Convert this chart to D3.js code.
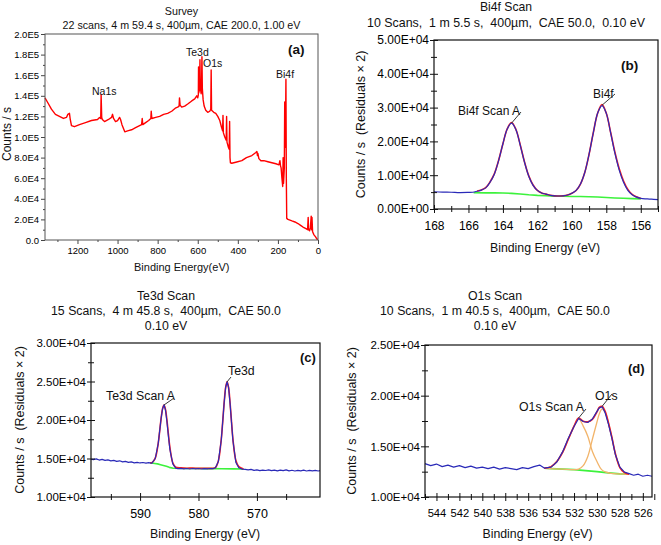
<!DOCTYPE html>
<html><head><meta charset="utf-8">
<script src="https://cdn.jsdelivr.net/npm/d3@7"></script>
<style>
body{margin:0;background:#fff}
svg{display:block}
text{font-family:"Liberation Sans",Arial,sans-serif;white-space:pre}
</style>
</head><body>
<svg id="chart" width="661" height="545"></svg>
<script>
// ---------------- DATA ----------------
// (a) Survey: [binding energy (eV), counts/s]
const surveyData = [
 [1362,138000],[1350,134000],[1330,127000],[1310,122000],[1290,120000],[1270,118000],[1255,119000],[1248,122000],[1240,123000],[1236,117000],[1230,111000],[1215,110000],[1190,112000],[1160,114000],[1130,116000],[1100,117000],[1090,119000],[1084,118000],[1082,141000],[1079,119000],[1076,117000],[1065,115000],[1045,117000],[1030,119000],[1025,122000],[1020,118000],[1010,115000],[1000,116000],[990,119000],[985,117000],[978,112000],[970,108000],[964,105000],[950,106000],[930,107000],[910,109000],[890,111000],[880,112000],[877,118000],[874,112000],[860,114000],[845,116000],[834,118000],[832,125000],[829,118000],[810,119000],[790,120000],[770,122000],[750,123000],[730,125000],[712,128000],[700,129000],[693,130000],[691,138000],[688,131000],[680,129000],[665,130000],[650,132000],[630,135000],[615,137000],[605,140000],[600,138000],[597,141000],[596,168000],[595,143000],[591,146000],[589,175000],[587,148000],[583,142000],[581,150000],[579,178000],[577,147000],[573,136000],[568,130000],[560,126000],[550,124000],[540,125000],[535,127000],[533,165000],[531,126000],[520,124000],[510,123000],[500,120000],[490,116000],[482,110000],[476,106000],[474,121000],[472,104000],[465,100000],[458,97000],[456,120000],[454,95000],[447,90000],[443,88000],[441,115000],[439,80000],[437,75000],[430,74500],[410,75500],[380,77000],[357,80000],[330,82000],[310,85000],[305,86000],[302,82000],[300,84000],[295,79000],[285,77000],[270,77000],[250,76000],[230,75000],[210,74000],[195,73000],[190,77000],[187,72000],[184,70000],[180,60000],[176,52000],[174,80000],[172,55000],[168,70000],[166,134000],[164,90000],[162,110000],[160,156000],[158,60000],[156,21000],[150,20000],[130,18500],[115,17500],[100,16000],[85,14000],[75,12600],[60,11000],[52,10000],[49,22000],[47,10000],[42,9000],[38,12000],[34,23000],[32,10000],[30,22000],[27,8000],[20,5000],[12,3000],[6,1000],[0,300]
];
const surveyYTicks = [0,20000,40000,60000,80000,100000,120000,140000,160000,180000,200000];
const surveyXTicks = [0,200,400,600,800,1000,1200];

// (b) Bi4f
const bi4fData = [
 [168,5100],[167.5,5000],[167,4950],[166.5,4850],[166,4900],[165.75,4950],[165.5,5250],[165.25,5600],[165,6250],[164.75,7900],[164.5,10300],[164.25,14300],[164,19300],[163.75,23700],[163.5,25400],[163.25,23500],[163,19000],[162.75,13900],[162.5,9700],[162.25,7000],[162,5500],[161.75,4750],[161.5,4400],[161.25,4050],[161,3900],[160.75,3850],[160.5,3900],[160.25,4150],[160,4650],[159.75,5500],[159.5,7400],[159.25,10800],[159,16200],[158.75,22700],[158.5,28400],[158.25,30600],[158,28300],[157.75,22600],[157.5,16500],[157.25,11500],[157,7900],[156.75,5500],[156.5,4200],[156.25,3500],[156,3150],[155.75,3000],[155.5,2950],[155.25,2850],[155,2800]
];
const bi4fEnvelope = [
 [165.5,5300],[165.25,5650],[165,6300],[164.75,8000],[164.5,10400],[164.25,14400],[164,19300],[163.75,23700],[163.5,25600],[163.25,23600],[163,19100],[162.75,14000],[162.5,9800],[162.25,7100],[162,5500],[161.75,4750],[161.5,4400],[161.25,4050],[161,3880],[160.75,3850],[160.5,3900],[160.25,4150],[160,4650],[159.75,5480],[159.5,7380],[159.25,10800],[159,16200],[158.75,22700],[158.5,28400],[158.25,30900],[158,28300],[157.75,22700],[157.5,16800],[157.25,11900],[157,8300],[156.75,5800],[156.5,4300],[156.25,3600],[156,3100]
];
const bi4fBackground = [
 [165.7,4800],[165,4780],[164.5,4760],[164,4720],[163.5,4620],[163,4450],[162.5,4200],[162,4020],[161.5,3900],[161,3800],[160.5,3750],[160,3700],[159.5,3680],[159,3640],[158.5,3550],[158,3420],[157.5,3270],[157,3160],[156.5,3060],[156,3000]
];
const bi4fYTicks = [0,10000,20000,30000,40000,50000];
const bi4fXTicks = [168,166,164,162,160,158,156];

// (c) Te3d
const te3dData = [
 [598.4,14900],[598,14850],[597.5,14950],[597,14800],[596.5,14880],[596,14750],[595.5,14820],[595,14700],[594.5,14760],[594,14620],[593.5,14700],[593,14560],[592.5,14620],[592,14500],[591.5,14560],[591,14440],[590.5,14500],[590,14420],[589.5,14480],[589,14400],[588.5,14460],[588,14380],[587.4,15000],[586.9,16900],[586.65,18550],[586.4,20200],[586.15,21450],[585.9,21950],[585.65,21300],[585.4,19800],[585.15,17900],[584.9,16200],[584.4,14300],[583.9,13750],[583.5,13680],[583,13720],[582.5,13650],[582,13700],[581.5,13640],[581,13700],[580.5,13650],[580,13700],[579.5,13640],[579,13690],[578.5,13650],[578,13700],[577.5,13680],[577.1,13800],[576.6,14600],[576.1,17400],[575.85,19800],[575.6,22300],[575.35,24250],[575.1,24950],[574.85,24200],[574.6,22200],[574.35,19700],[574.1,17300],[573.6,14500],[573.1,13800],[572.5,13620],[572,13580],[571.5,13520],[571,13580],[570.5,13450],[570,13520],[569.5,13420],[569,13500],[568.5,13440],[568,13530],[567.5,13420],[567,13480],[566.5,13400],[566,13500],[565.5,13430],[565,13520],[564.5,13400],[564,13470],[563.5,13380],[563,13460],[562.5,13400],[562,13480],[561.5,13380],[561,13450],[560.5,13400],[560,13460],[559.5,13380],[559.2,13420]
];
const te3dEnvelope = [
 [588.3,14450],[587.9,14500],[587.4,15050],[586.9,16940],[586.65,18510],[586.4,20180],[586.15,21480],[585.9,21940],[585.65,21370],[585.4,19950],[585.15,18160],[584.9,16490],[584.4,14450],[583.9,13870],[583,13780],[582,13740],[581,13760],[580,13720],[579,13740],[578,13720],[577.1,13820],[576.6,14690],[576.1,17500],[575.85,19810],[575.6,22280],[575.35,24230],[575.1,24960],[574.85,24220],[574.6,22270],[574.35,19800],[574.1,17480],[573.6,14750],[573.1,13950],[572.3,13640]
];
const te3dBackground = [
 [588.3,14450],[587.5,14360],[587,14300],[586.5,14200],[586,14100],[585.5,13980],[585,13850],[584.3,13730],[582,13710],[580,13700],[578,13680],[576,13660],[574,13650],[572.3,13640]
];
const te3dYTicks = [10000,15000,20000,25000,30000];
const te3dXTicks = [590,580,570];

// (d) O1s
const o1sData = [
 [545,13300],[544.5,13100],[544,13250],[543.5,13000],[543,13150],[542.5,12950],[542,13100],[541.5,12900],[541,13050],[540.5,12850],[540,12950],[539.5,12800],[539,12950],[538.5,12750],[538,12900],[537.5,12800],[537,12700],[536.5,12900],[536,12800],[535.5,13000],[535,13150],[534.6,12850],[534,12950],[533.5,13450],[533,14450],[532.5,15800],[532,16950],[531.6,17750],[531.2,17450],[530.8,17350],[530.4,17700],[530,18450],[529.8,18800],[529.55,18900],[529.3,18350],[529,17200],[528.7,15800],[528.4,14200],[528,12950],[527.6,12450],[527.2,12300],[526.8,12150],[526.4,12250],[526,12050],[525.6,12150],[525.2,12050]
];
const o1sEnvelope = [
 [534.6,12830],[534,13000],[533.5,13500],[533,14400],[532.5,15700],[532,17000],[531.6,17800],[531.2,17480],[530.8,17420],[530.4,17660],[530,18400],[529.8,18850],[529.55,18950],[529.3,18500],[529,17330],[528.7,15900],[528.4,14300],[528,12900],[527.6,12400],[527.2,12250]
];
const o1sBackground = [
 [534.6,12830],[534,12800],[533,12750],[532,12700],[531,12600],[530,12500],[529,12380],[528,12280],[527.2,12240]
];
const o1sComponentA = [
 [534.6,12830],[534,13000],[533.5,13500],[533,14400],[532.5,15700],[532,17000],[531.6,17700],[531.2,17000],[530.8,16000],[530.4,14500],[530,13500],[529.6,12700],[529.2,12450],[528.8,12340],[528,12280],[527.2,12240]
];
const o1sComponentB = [
 [534.6,12830],[533,12750],[532,12700],[531.6,12760],[531.2,13100],[530.8,14000],[530.4,15700],[530,17400],[529.8,18200],[529.55,18700],[529.3,18400],[529,17300],[528.7,15900],[528.4,14300],[528,12900],[527.6,12400],[527.2,12250]
];
const o1sYTicks = [10000,15000,20000,25000];
const o1sXTicks = [544,542,540,538,536,534,532,530,528,526];

// ---------------- DRAW ----------------
const svg = d3.select('#chart');
const BLUE = '#2a2ab8', RED = '#ff2020', GREEN = '#3cf23c', ORANGE = '#f2b46a';

const fmtE2 = v => { const [m, e] = v.toExponential(2).split('e'); const n = +e; return m + 'E' + (n < 0 ? '-' : '+') + String(Math.abs(n)).padStart(2, '0'); };
const fmtE1 = v => { if (v === 0) return '0.0'; const [m, e] = v.toExponential(1).split('e'); return m + 'E' + (+e); };

function text(x, y, s, o = {}) {
  return svg.append('text').attr('x', x).attr('y', y).text(s)
    .attr('font-size', o.size || 12).attr('text-anchor', o.anchor || 'start')
    .attr('font-weight', o.bold ? 'bold' : null).attr('fill', o.fill || '#111');
}
function vtext(x, y, s, size) {
  return svg.append('text').attr('transform', `translate(${x},${y}) rotate(-90)`)
    .attr('text-anchor', 'middle').attr('font-size', size).attr('fill', '#111').text(s);
}
function leader(x1, y1, x2, y2) {
  svg.append('line').attr('x1', x1).attr('y1', y1).attr('x2', x2).attr('y2', y2)
    .attr('stroke', '#222').attr('stroke-width', 0.9);
}
function styleAxis(g, size) {
  g.attr('font-family', null).attr('font-size', size);
  g.select('.domain').remove();
}

function drawAxes(x, y, o) {
  const [xl, xr] = x.range(), [yb, yt] = y.range();
  const ym = svg.append('g').attr('transform', `translate(${xl},0)`)
    .call(d3.axisLeft(y).tickValues(o.yMajor).tickFormat(o.yFmt).tickSize(o.tick).tickPadding(o.yPad));
  styleAxis(ym, o.yFont);
  if (o.cross) ym.selectAll('.tick line').attr('x1', o.tick);
  const yn = svg.append('g').attr('transform', `translate(${xl},0)`)
    .call(d3.axisLeft(y).tickValues(o.yMinor).tickFormat('').tickSize(o.minor));
  styleAxis(yn, o.yFont);
  if (o.cross) yn.selectAll('.tick line').attr('x1', o.minor);
  const xm = svg.append('g').attr('transform', `translate(0,${yb})`)
    .call(d3.axisBottom(x).tickValues(o.xMajor).tickFormat(d3.format('d')).tickSize(o.tick).tickPadding(o.xPad));
  styleAxis(xm, o.xFont);
  if (o.cross) xm.selectAll('.tick line').attr('y1', -o.tick);
  const xn = svg.append('g').attr('transform', `translate(0,${yb})`)
    .call(d3.axisBottom(x).tickValues(o.xMinor).tickFormat('').tickSize(o.minor));
  styleAxis(xn, o.xFont);
  if (o.cross) xn.selectAll('.tick line').attr('y1', -o.minor);
  [ym, yn, xm, xn].forEach(g => g.selectAll('.tick line').attr('stroke', o.tickColor || '#111'));
  svg.append('rect').attr('x', xl).attr('y', yt).attr('width', xr - xl).attr('height', yb - yt)
    .attr('fill', 'none').attr('stroke', o.frame || '#111').attr('stroke-width', o.frameW || 1.2);
}

function path(x, y, data, color, width, curve) {
  const line = d3.line().x(d => x(d[0])).y(d => y(d[1])).curve(curve || d3.curveLinear);
  svg.append('path').datum(data).attr('d', line).attr('fill', 'none')
    .attr('stroke', color).attr('stroke-width', width).attr('stroke-linejoin', 'round');
}

// ---- (a) Survey ----
{
  const x = d3.scaleLinear().domain([1362, 0]).range([45, 318]);
  const y = d3.scaleLinear().domain([0, 200000]).range([240, 34]);
  path(x, y, surveyData, '#ff0000', 1.4);
  drawAxes(x, y, {
    yMajor: surveyYTicks, yMinor: d3.range(10000, 200000, 20000), yFmt: fmtE1,
    xMajor: surveyXTicks, xMinor: [100, 300, 500, 700, 900, 1100, 1300],
    tick: 4, minor: 2, yPad: 2, xPad: 3, yFont: 9.5, xFont: 9.5, frame: '#555', frameW: 1, tickColor: '#444'
  });
  text(181.5, 15, 'Survey', { size: 10.7, anchor: 'middle' });
  text(181.5, 29, '22 scans, 4 m 59.4 s, 400µm, CAE 200.0, 1.00 eV', { size: 10.7, anchor: 'middle' });
  text(92, 95, 'Na1s', { size: 10.5 });
  text(186, 56, 'Te3d', { size: 10.5 });
  text(203, 67, 'O1s', { size: 10.5 });
  text(276, 78, 'Bi4f', { size: 10.5 });
  text(288, 54, '(a)', { size: 13.5, bold: true });
  vtext(11, 134, 'Counts / s', 12);
  text(181.7, 271, 'Binding Energy(eV)', { size: 11, anchor: 'middle' });
}

// ---- (b) Bi4f ----
{
  const x = d3.scaleLinear().domain([168, 155]).range([434, 658]);
  const y = d3.scaleLinear().domain([0, 50000]).range([209, 40]);
  path(x, y, bi4fBackground, GREEN, 1.6);
  path(x, y, bi4fEnvelope, RED, 1.6, d3.curveCatmullRom);
  path(x, y, bi4fData, BLUE, 1.2, d3.curveCatmullRom);
  drawAxes(x, y, {
    yMajor: bi4fYTicks, yMinor: [5000, 15000, 25000, 35000, 45000], yFmt: fmtE2,
    xMajor: bi4fXTicks, xMinor: [167, 165, 163, 161, 159, 157, 155],
    tick: 4, minor: 3, yPad: 1, xPad: 8, yFont: 12, xFont: 12, cross: true
  });
  text(506, 11, 'Bi4f Scan', { size: 12.2, anchor: 'middle' });
  text(506, 26.5, '10 Scans,  1 m 5.5 s,  400µm,  CAE 50.0,  0.10 eV', { size: 12.4, anchor: 'middle' });
  text(458, 115, 'Bi4f Scan A', { size: 12 });
  leader(521, 112, x(163.5), y(25400));
  text(593, 98, 'Bi4f', { size: 12 });
  leader(615, 94, x(158.25), y(30700));
  text(621, 70, '(b)', { size: 13.5, bold: true });
  vtext(365, 124.5, 'Counts / s  (Residuals × 2)', 12.5);
  text(545, 251.5, 'Binding Energy (eV)', { size: 12.3, anchor: 'middle' });
}

// ---- (c) Te3d ----
{
  const x = d3.scaleLinear().domain([598.4, 559.2]).range([91, 320]);
  const y = d3.scaleLinear().domain([10000, 30000]).range([497, 343]);
  path(x, y, te3dBackground, GREEN, 1.6);
  path(x, y, te3dEnvelope, RED, 1.6, d3.curveCatmullRom);
  path(x, y, te3dData, BLUE, 1.2);
  drawAxes(x, y, {
    yMajor: te3dYTicks, yMinor: [12500, 17500, 22500, 27500], yFmt: fmtE2,
    xMajor: te3dXTicks, xMinor: [595, 585, 575, 565],
    tick: 4, minor: 3, yPad: 1, xPad: 8, yFont: 11.5, xFont: 12.5, cross: true
  });
  text(166, 300, 'Te3d Scan', { size: 12.3, anchor: 'middle' });
  text(166, 315, '15 Scans,  4 m 45.8 s,  400µm,  CAE 50.0', { size: 12.3, anchor: 'middle' });
  text(166, 330, '0.10 eV', { size: 12.3, anchor: 'middle' });
  text(106, 400, 'Te3d Scan A', { size: 12.3 });
  leader(174, 398, x(585.9), y(21950));
  text(228, 375, 'Te3d', { size: 12.3 });
  leader(231, 377, x(575.1), y(24960));
  text(300, 362, '(c)', { size: 13, bold: true });
  vtext(24, 420, 'Counts / s  (Residuals × 2)', 12.5);
  text(205, 538, 'Binding Energy (eV)', { size: 12.3, anchor: 'middle' });
}

// ---- (d) O1s ----
{
  const x = d3.scaleLinear().domain([545, 525.2]).range([425, 652]);
  const y = d3.scaleLinear().domain([10000, 25000]).range([497, 345]);
  path(x, y, o1sBackground, GREEN, 1.6);
  path(x, y, o1sComponentA, ORANGE, 1.3, d3.curveCatmullRom);
  path(x, y, o1sComponentB, ORANGE, 1.3, d3.curveCatmullRom);
  path(x, y, o1sEnvelope, RED, 1.6, d3.curveCatmullRom);
  path(x, y, o1sData, BLUE, 1.2);
  drawAxes(x, y, {
    yMajor: o1sYTicks, yMinor: [12500, 17500, 22500], yFmt: fmtE2,
    xMajor: o1sXTicks, xMinor: [545, 543, 541, 539, 537, 535, 533, 531, 529, 527, 525],
    tick: 4, minor: 3, yPad: 1, xPad: 8, yFont: 11.5, xFont: 11.2, cross: true
  });
  text(495, 300, 'O1s Scan', { size: 12.3, anchor: 'middle' });
  text(495, 315, '10 Scans,  1 m 40.5 s,  400µm,  CAE 50.0', { size: 12.3, anchor: 'middle' });
  text(495, 330, '0.10 eV', { size: 12.3, anchor: 'middle' });
  text(519, 411, 'O1s Scan A', { size: 12.3 });
  leader(586, 409, x(531.6), y(17800));
  text(595, 400, 'O1s', { size: 12.3 });
  leader(612, 394, x(529.55), y(18950));
  text(628, 373, '(d)', { size: 13, bold: true });
  vtext(356, 421, 'Counts / s  (Residuals × 2)', 12.5);
  text(537.5, 538, 'Binding Energy (eV)', { size: 12.3, anchor: 'middle' });
}
</script>
</body></html>
